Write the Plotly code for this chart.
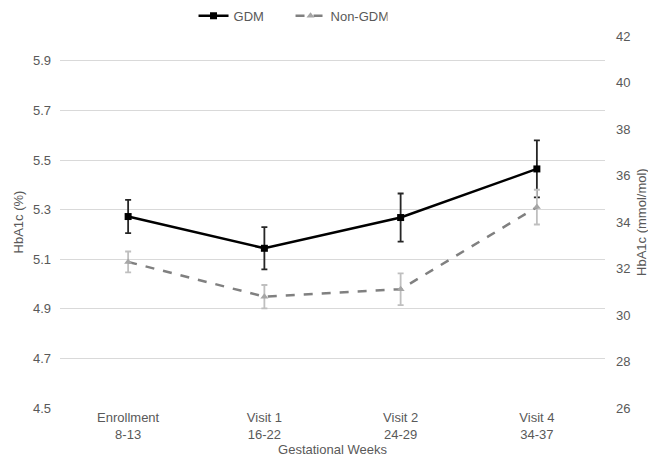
import plotly.graph_objects as go

categories = ["Enrollment<br>8-13", "Visit 1<br>16-22", "Visit 2<br>24-29", "Visit 4<br>34-37"]
gdm_values = [5.272, 5.144, 5.268, 5.464]
gdm_errors = [0.067, 0.085, 0.097, 0.115]
non_gdm_values = [5.089, 4.949, 4.979, 5.310]
non_gdm_errors = [0.042, 0.047, 0.064, 0.070]
left_ticks = [4.5, 4.7, 4.9, 5.1, 5.3, 5.5, 5.7, 5.9]
right_ticks = [26, 28, 30, 32, 34, 36, 38, 40, 42]

FONT = "Liberation Sans"
TXT = "#595959"

fig = go.Figure()
fig.add_trace(go.Scatter(
    x=categories, y=gdm_values, name="GDM", mode="lines+markers",
    line=dict(color="#000000", width=2.5),
    marker=dict(symbol="square", size=7, color="#000000"),
    error_y=dict(type="data", array=gdm_errors, visible=True,
                 color="#262626", thickness=1.8, width=3),
))
fig.add_trace(go.Scatter(
    x=categories, y=non_gdm_values, name="Non-GDM", mode="lines+markers",
    line=dict(color="#808080", width=2.5, dash="dash"),
    marker=dict(symbol="triangle-up", size=7, color="#a6a6a6"),
    error_y=dict(type="data", array=non_gdm_errors, visible=True,
                 color="#bfbfbf", thickness=1.8, width=3),
))
# invisible companion trace on the secondary (mmol/mol) axis
fig.add_trace(go.Scatter(
    x=categories, y=[(v - 2.15) * 10.929 for v in gdm_values], yaxis="y2",
    mode="lines", line=dict(width=0, color="rgba(0,0,0,0)"),
    showlegend=False, hoverinfo="skip",
))

fig.update_layout(
    width=648, height=464,
    margin=dict(l=60, r=43, t=36, b=56, autoexpand=False),
    paper_bgcolor="white", plot_bgcolor="white",
    font=dict(family=FONT, size=13, color=TXT),
    showlegend=True,
    legend=dict(orientation="h", x=0.245, xanchor="left", y=1.054, yanchor="middle",
                font=dict(family=FONT, size=13, color=TXT), entrywidth=52,
                bgcolor="rgba(0,0,0,0)"),
    xaxis=dict(
        type="category", range=[-0.5, 3.5], showgrid=False, zeroline=False,
        showline=False, ticks="", tickfont=dict(family=FONT, size=13, color=TXT),
        title=dict(text="Gestational Weeks", font=dict(family=FONT, size=13, color=TXT), standoff=2),
    ),
    yaxis=dict(
        range=[4.5, 6.0], tickvals=left_ticks, ticktext=[f"{v:.1f}" for v in left_ticks],
        showgrid=True, gridcolor="#d9d9d9", gridwidth=1, zeroline=False, showline=False,
        ticks="", ticklabelstandoff=8, tickfont=dict(family=FONT, size=13, color=TXT),
        title=dict(text="HbA1c (%)", font=dict(family=FONT, size=13, color=TXT), standoff=6),
    ),
    yaxis2=dict(
        range=[26, 42], tickvals=right_ticks, overlaying="y", side="right",
        showgrid=False, zeroline=False, showline=False, ticks="",
        ticklabelstandoff=10, tickfont=dict(family=FONT, size=13, color=TXT),
    ),
    annotations=[dict(
        text="HbA1c (mmol/mol)", textangle=-90, xref="paper", yref="paper",
        x=1.066, y=0.5, xanchor="center", yanchor="middle", showarrow=False,
        font=dict(family=FONT, size=13, color=TXT),
    )],
)

fig.write_html(
    "out.html",
    config={"displayModeBar": False},
    post_script="document.body.style.margin='0px';document.body.style.overflow='hidden';",
)
